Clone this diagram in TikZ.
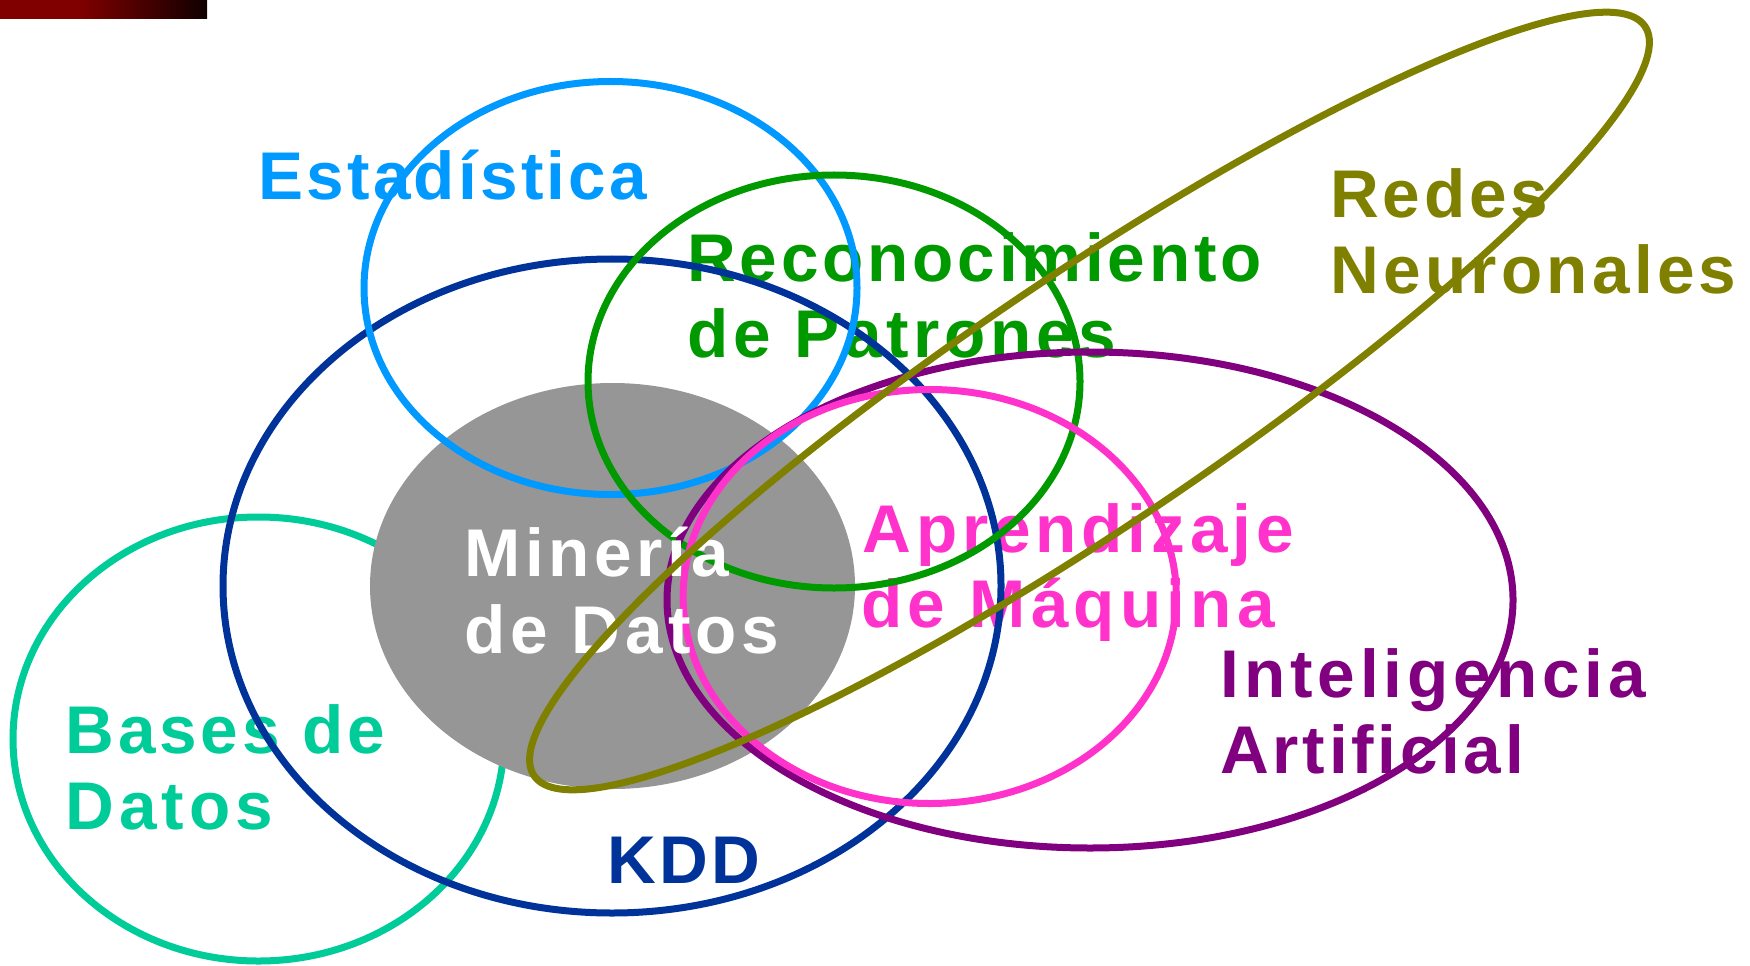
\documentclass[tikz,border=0pt]{standalone}
\usepackage{fontspec}
\setmainfont{Liberation Sans}
\definecolor{cEst}{HTML}{0099FF}
\definecolor{cRec}{HTML}{009900}
\definecolor{cKdd}{HTML}{003399}
\definecolor{cMin}{HTML}{969696}
\definecolor{cBd}{HTML}{00CC99}
\definecolor{cIa}{HTML}{800080}
\definecolor{cAm}{HTML}{FF33CC}
\definecolor{cRn}{HTML}{808000}
\definecolor{barA}{HTML}{800000}
\definecolor{barB}{HTML}{100000}
\begin{document}
\begin{tikzpicture}[x=0.4pt,y=-0.4pt,
  lbl/.style={font=\bfseries\fontsize{27}{32}\selectfont\addfontfeature{LetterSpace=#1}, inner sep=0pt, anchor=base west},
  lbl/.default=6,
  ring/.style={line width=2.8pt}]
\useasboundingbox (0,0) rectangle (1750,965);
% top bar
\fill[barA] (0,0) rectangle (80,19);
\shade[left color=barA, right color=barB] (79,0) rectangle (207,19);
% labels (under the rings)
\node[lbl=4.8, text=cEst] (est) at (258,200) {Estadística};
\node[lbl=5.6, text=cRec] (rec1) at (687,282) {Reconocimiento};
\node[lbl=7, text=cRec] (rec2) at (687,357) {de Patrones};
\node[lbl=5.5, text=cRn] (rn1) at (1330,217) {Redes};
\node[lbl=6.3, text=cRn] (rn2) at (1330,293) {Neuronales};
\node[lbl=7.2, text=cAm] (am1) at (862,552) {Aprendizaje};
\node[lbl=7.8, text=cAm] (am2) at (861,627) {de Máquina};
\node[lbl=7.3, text=cIa] (ia1) at (1220,697) {Inteligencia};
\node[lbl=5.5, text=cIa] (ia2) at (1220,773) {Artificial};
\node[lbl=5.7, text=cBd] (bd1) at (65,753) {Bases de};
\node[lbl=7.5, text=cBd] (bd2) at (65,829) {Datos};
\node[lbl=5, text=cKdd] (kdd) at (607,883) {KDD};
% rings
\draw[ring, cBd] (258.5,739) ellipse [x radius=245.5, y radius=222];
\draw[ring, cKdd] (612,586) ellipse [x radius=389, y radius=327];
\fill[cMin] (612.5,586) ellipse [x radius=242.5, y radius=203];
\draw[ring, cEst] (610.5,288) ellipse [x radius=246.5, y radius=206.5];
\draw[ring, cRec] (834,381.5) ellipse [x radius=246, y radius=206.5];
\draw[ring, cIa] (1090,600) ellipse [x radius=423, y radius=248];
\draw[ring, cAm] (929.7,596.5) ellipse [x radius=246.6, y radius=207];
% Minería label
\node[lbl=6.9, text=white] (min1) at (464,576) {Minería};
\node[lbl=7.4, text=white] (min2) at (464,653) {de Datos};
% Redes Neuronales ring
\draw[ring, cRn, rotate around={34:(1089.5,401)}] (1089.5,401) ellipse [x radius=670, y radius=125];
\end{tikzpicture}
\end{document}
